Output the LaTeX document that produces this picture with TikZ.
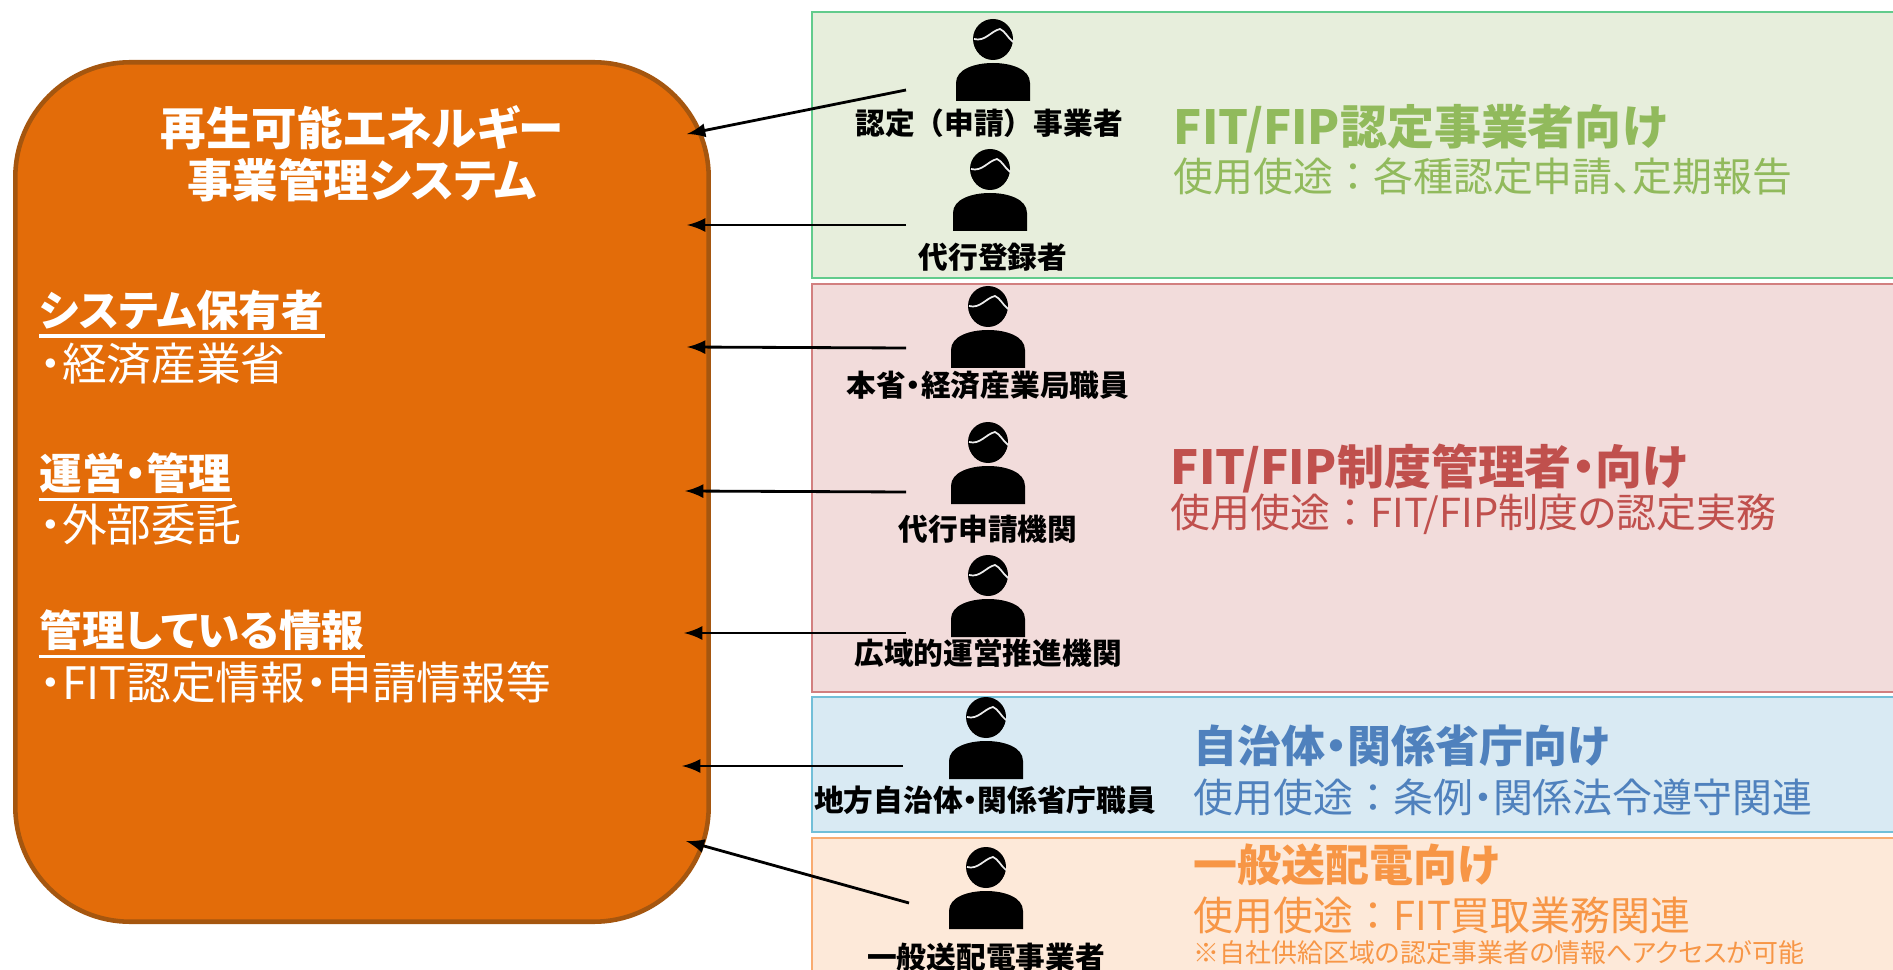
\documentclass[tikz,border=0pt]{standalone}
\usepackage{fontspec}
\setmainfont{Noto Sans CJK JP}[RawFeature={+palt}]
\newcommand{\fullw}[1]{{\addfontfeature{RawFeature=-palt}#1}}
\definecolor{sysorange}{HTML}{E36C09}
\definecolor{sysedge}{HTML}{A5560F}
\definecolor{greenfill}{HTML}{E7EEDC}
\definecolor{greenedge}{HTML}{62CB8C}
\definecolor{greentext}{HTML}{91BA5C}
\definecolor{redfill}{HTML}{F2DCDB}
\definecolor{rededge}{HTML}{D27F7F}
\definecolor{redtext}{HTML}{C0504D}
\definecolor{bluefill}{HTML}{D9EAF3}
\definecolor{blueedge}{HTML}{72BFD8}
\definecolor{bluetext}{HTML}{4F81BD}
\definecolor{peachfill}{HTML}{FDE9D9}
\definecolor{peachedge}{HTML}{F9AB70}
\definecolor{peachtext}{HTML}{F79646}
\begin{document}
\begin{tikzpicture}[x=0.01cm, y=-0.01cm,
    system/.style ={rectangle, draw=sysedge, fill=sysorange, line width=1.3pt, rounded corners=1.15cm, minimum width=6.93cm, minimum height=8.59cm},
    panel/.style ={line width=0.8pt},
    heading/.style ={anchor=west, inner sep=0pt, font=\bfseries\fontsize{13.35}{15}\selectfont},
    headingsmall/.style ={heading, font=\bfseries\fontsize{12.5}{15}\selectfont},
    usage/.style ={anchor=west, inner sep=0pt, font=\fontsize{11.35}{14}\selectfont},
    title/.style ={inner sep=0pt, text=white, font=\bfseries\fontsize{12.95}{15}\selectfont},
    topic/.style ={anchor=west, inner sep=0pt, text=white, font=\bfseries\fontsize{12.1}{14}\selectfont},
    item/.style ={anchor=west, inner sep=0pt, text=white, font=\fontsize{12.7}{14}\selectfont},
    role/.style ={inner sep=0pt, font=\bfseries\fontsize{8.45}{10}\selectfont},
    link/.style ={-latex, line width=0.8pt},
    rulewhite/.style ={white, line width=1pt},
    person/.pic ={
      \fill (0,22) circle (19);
      \fill (0,20) ellipse (20 and 20);
      \fill (-37,82) -- (-37,64) .. controls (-37,50) and (-18,44) .. (0,44) .. controls (18,44) and (37,50) .. (37,64) -- (37,82) -- cycle;
      \draw[gray!15, line width=0.5pt] (-19,20) .. controls (-8,23) and (-2,12) .. (7,10) .. controls (12,12) and (15,19) .. (20,23);
    }]
   \useasboundingbox (0,0) rectangle (1893,970);
   \clip (0,0) rectangle (1893,970);

   \draw[panel, draw=greenedge, fill=greenfill] (812,12) rectangle (1910,278);
   \draw[panel, draw=rededge, fill=redfill] (812,284) rectangle (1910,692);
   \draw[panel, draw=blueedge, fill=bluefill] (812,697) rectangle (1910,832);
   \draw[panel, draw=peachedge, fill=peachfill] (812,838) rectangle (1910,990);

   \node[system] (sys) at (362,492) {};
   \node[title] (sysA) at (362,128) {再生可能エネルギー};
   \node[title] (sysB) at (362,180) {事業管理システム};
   \node[topic] (ownerH) at (39,310) {システム保有者};
   \node[item] (ownerI) at (39,364) {・経済産業省};
   \node[topic] (operH) at (39,473) {運営・管理};
   \node[item] (operI) at (39,525) {・外部委託};
   \node[topic] (infoH) at (39,630) {管理している情報};
   \node[item] (infoI) at (39,683) {・FIT認定情報・申請情報等};
   \draw[rulewhite] ([yshift=-1.5pt]ownerH.south west) -- ([yshift=-1.5pt]ownerH.south east);
   \draw[rulewhite] ([yshift=-1.5pt]operH.south west) -- ([yshift=-1.5pt]operH.south east);
   \draw[rulewhite] ([yshift=-1.5pt]infoH.south west) -- ([yshift=-1.5pt]infoH.south east);

   \pic (pA) at (993,19) {person};
   \pic (pB) at (990,149) {person};
   \pic (pC) at (988,286) {person};
   \pic (pD) at (988,422) {person};
   \pic (pE) at (988,555) {person};
   \pic (pF) at (986,697) {person};
   \pic (pG) at (986,847) {person};

   \node[role] (rA) at (989,123) {認定\fullw{（}申請\fullw{）}事業者};
   \node[role] (rB) at (993,257) {代行登録者};
   \node[role] (rC) at (988,385) {本省・経済産業局職員};
   \node[role] (rD) at (988,529) {代行申請機関};
   \node[role] (rE) at (988,653) {広域的運営推進機関};
   \node[role] (rF) at (985,800) {地方自治体・関係省庁職員};
   \node[role] (rG) at (986,957) {一般送配電事業者};

   \node[heading, text=greentext] (greenH) at (1173,129) {FIT/FIP認定事業者向け};
   \node[usage, text=greentext] (greenU) at (1173,176) {使用使途\fullw{：}各種認定申請、定期報告};
   \node[heading, text=redtext] (redH) at (1170,468) {FIT/FIP制度管理者・向け};
   \node[usage, text=redtext] (redU) at (1170,514) {使用使途\fullw{：}FIT/FIP制度の認定実務};
   \node[headingsmall, text=bluetext] (blueH) at (1193,746) {自治体・関係省庁向け};
   \node[usage, text=bluetext] (blueU) at (1193,797) {使用使途\fullw{：}条例・関係法令遵守関連};
   \node[headingsmall, text=peachtext] (peachH) at (1193,865) {一般送配電向け};
   \node[usage, text=peachtext] (peachU) at (1193,915) {使用使途\fullw{：}FIT買取業務関連};
   \node[anchor=west, inner sep=0pt, text=peachtext, font=\fontsize{7.37}{9}\selectfont] (peachN) at (1193,953) {※自社供給区域の認定事業者の情報へアクセスが可能};

   \coordinate (fA) at (906,90);
   \coordinate (tA) at (687,134);
   \coordinate (fB) at (906,225);
   \coordinate (tB) at (687,225);
   \coordinate (fC) at (906,348);
   \coordinate (tC) at (687,347);
   \coordinate (fD) at (906,492);
   \coordinate (tD) at (685,491);
   \coordinate (fE) at (906,633);
   \coordinate (tE) at (684,633);
   \coordinate (fF) at (903,766);
   \coordinate (tF) at (682,766);
   \coordinate (fG) at (909,903);
   \coordinate (tG) at (686,841);
   \draw[link] (fA) to (tA);
   \draw[link] (fB) to (tB);
   \draw[link] (fC) to (tC);
   \draw[link] (fD) to (tD);
   \draw[link] (fE) to (tE);
   \draw[link] (fF) to (tF);
   \draw[link] (fG) to (tG);
\end{tikzpicture}
\end{document}
